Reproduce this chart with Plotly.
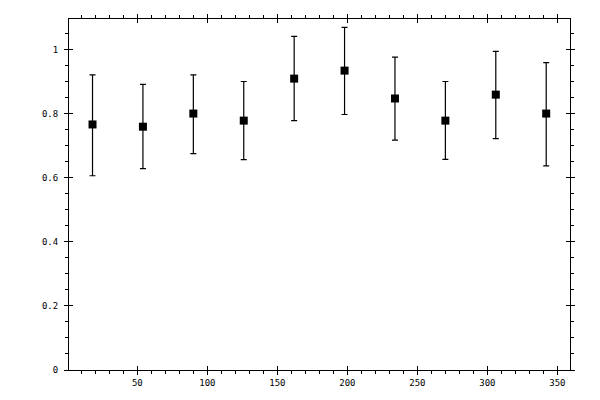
import plotly.graph_objects as go

# values
angle = [18, 54, 90, 126, 162, 198, 234, 270, 306, 342]
value = [0.766, 0.759, 0.800, 0.778, 0.909, 0.934, 0.847, 0.778, 0.859, 0.800]
err_up = [0.155, 0.132, 0.121, 0.122, 0.132, 0.135, 0.129, 0.122, 0.135, 0.159]
err_down = [0.160, 0.131, 0.125, 0.122, 0.131, 0.137, 0.130, 0.121, 0.137, 0.163]

x_range = [1.2, 359]
y_range = [0, 1.095]
font = dict(family="DejaVu Sans Mono", size=9, color="black")

fig = go.Figure()
fig.add_trace(go.Scatter(
    x=angle,
    y=value,
    mode="markers",
    marker=dict(symbol="square", size=8, color="black"),
    error_y=dict(
        type="data",
        symmetric=False,
        array=err_up,
        arrayminus=err_down,
        color="black",
        thickness=1.2,
        width=3,
    ),
    showlegend=False,
))
# empty trace so the inside-tick axes get drawn
fig.add_trace(go.Scatter(x=[], y=[], xaxis="x2", yaxis="y2", showlegend=False))

axis_common = dict(
    showgrid=False,
    zeroline=False,
    showline=True,
    linecolor="black",
    linewidth=1,
    mirror="ticks",
    ticks="outside",
    ticklen=4,
    tickwidth=1,
    tickcolor="black",
    tickfont=font,
    automargin=False,
)

# page body has an 8px margin: keep the figure inside the window
fig.update_layout(
    width=584,
    height=384,
    margin=dict(l=61, r=22, t=11, b=22, autoexpand=False),
    paper_bgcolor="white",
    plot_bgcolor="white",
    font=font,
    xaxis=dict(
        axis_common,
        range=x_range,
        dtick=50,
        tick0=0,
        minor=dict(ticks="outside", ticklen=3, dtick=10, tick0=0, tickcolor="black", showgrid=False),
    ),
    yaxis=dict(
        axis_common,
        range=y_range,
        dtick=0.2,
        tick0=0,
        ticklabelstandoff=4,
        minor=dict(ticks="outside", ticklen=3, dtick=0.05, tick0=0, tickcolor="black", showgrid=False),
    ),
    xaxis2=dict(
        overlaying="x",
        anchor="y2",
        range=x_range,
        dtick=50,
        tick0=0,
        ticks="inside",
        ticklen=4,
        tickcolor="black",
        mirror="ticks",
        showline=False,
        showgrid=False,
        zeroline=False,
        showticklabels=False,
        automargin=False,
    ),
    yaxis2=dict(
        overlaying="y",
        anchor="x2",
        range=y_range,
        dtick=0.2,
        tick0=0,
        ticks="inside",
        ticklen=4,
        tickcolor="black",
        mirror="ticks",
        showline=False,
        showgrid=False,
        zeroline=False,
        showticklabels=False,
        automargin=False,
    ),
)

fig.write_html("out.html")
